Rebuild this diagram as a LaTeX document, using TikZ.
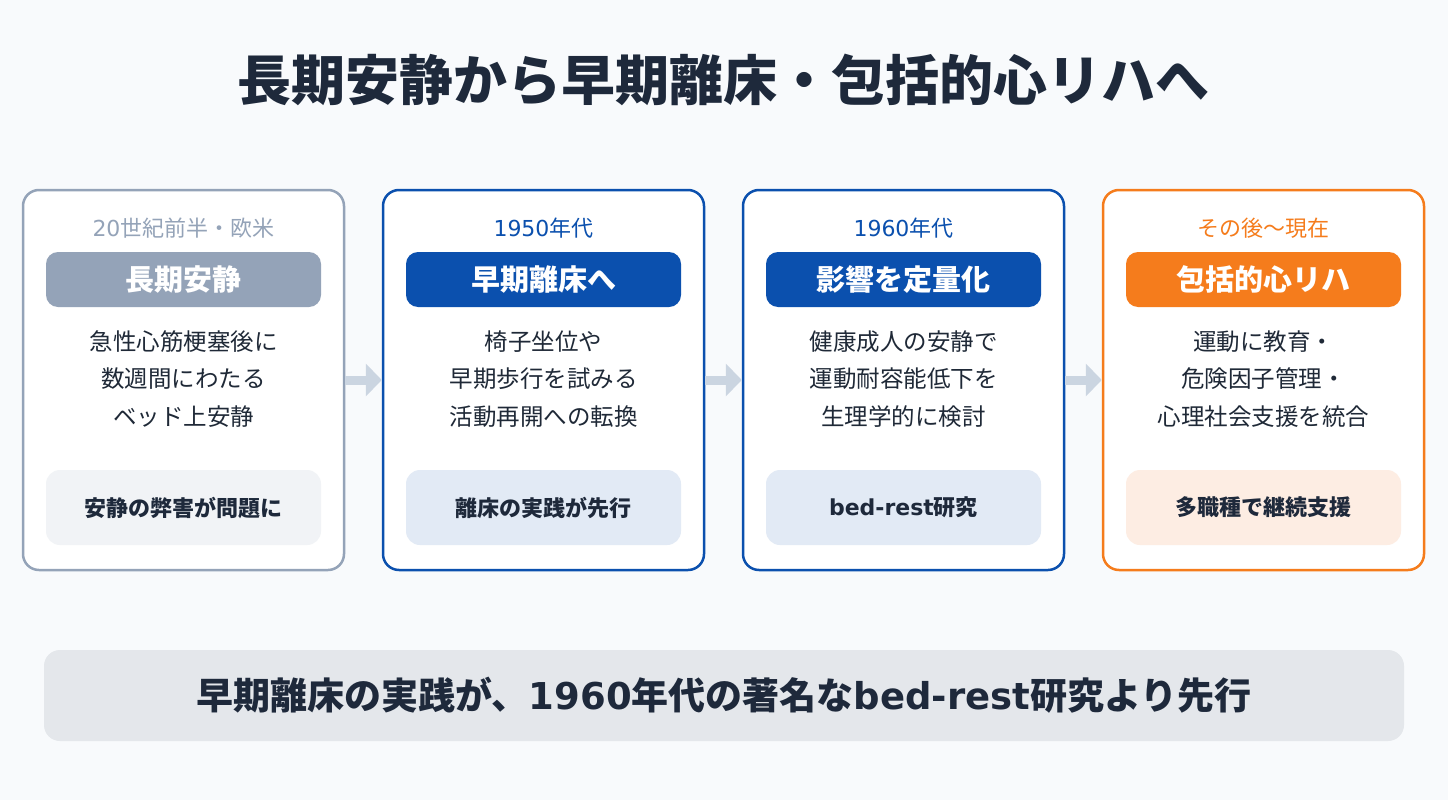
\documentclass[tikz,border=0pt]{standalone}
\usepackage{fontspec}
\setmainfont{Noto Sans CJK JP}[BoldFont={Noto Sans CJK JP Black}]
\newfontfamily\latfont{DejaVu Sans}
\newcommand{\lat}[1]{{\latfont #1}}
\usepackage{tikz}
\usetikzlibrary{arrows.meta}
\definecolor{bgcol}{HTML}{F8FAFC}
\definecolor{inkcol}{HTML}{1E293B}
\definecolor{bodycol}{HTML}{1F2937}
\definecolor{graycol}{HTML}{94A3B8}
\definecolor{graysub}{HTML}{F1F3F6}
\definecolor{bluecol}{HTML}{0B50AE}
\definecolor{bluesub}{HTML}{E2EAF5}
\definecolor{orangecol}{HTML}{F57C1C}
\definecolor{orangesub}{HTML}{FDEDE3}
\definecolor{arrowcol}{HTML}{CBD5E1}
\definecolor{bannercol}{HTML}{E4E7EB}

\begin{document}
\begin{tikzpicture}[x=1pt,y=-1pt,
	card/.style = {draw,line width=2.5pt,rounded corners=16pt,fill=white,minimum width=321pt,minimum height=380pt,inner sep=0pt},
	year/.style = {font=\fontsize{22}{26}\selectfont,inner sep=0pt},
	pill/.style = {rounded corners=12pt,minimum width=275pt,minimum height=55pt,inner sep=0pt,text=white,font=\fontsize{29}{34}\selectfont\bfseries},
	body/.style = {align=center,text=bodycol,inner sep=0pt,font=\fontsize{23.5}{37.5}\selectfont},
	sub/.style = {rounded corners=14pt,minimum width=275pt,minimum height=75pt,inner sep=0pt,text=inkcol,font=\fontsize{22}{26}\selectfont\bfseries},
	flow/.style = {draw=arrowcol,line width=9pt,-{Triangle[length=16pt,width=32pt]}}
	]
	\fill[bgcol] (0,0) rectangle (1448,800);
	\useasboundingbox (0,0) rectangle (1448,800);
	%TITLE
	\node[text=inkcol,font=\fontsize{54}{60}\selectfont\bfseries] (title) at (723,80) {長期安静から早期離床・包括的心リハへ};
	%CARD 1
	\node[card,draw=graycol] (card1) at (183.5,380) {};
	\node[year,text=graycol] (year1) at (183.5,228) {\lat{20}世紀前半・欧米};
	\node[pill,fill=graycol] (pill1) at (183.5,279.5) {長期安静};
	\node[body] (body1) at (183.5,379) {急性心筋梗塞後に\\数週間にわたる\\ベッド上安静};
	\node[sub,fill=graysub] (sub1) at (183.5,507.5) {安静の弊害が問題に};
	%CARD 2
	\node[card,draw=bluecol] (card2) at (543.5,380) {};
	\node[year,text=bluecol] (year2) at (543.5,228) {\lat{1950}年代};
	\node[pill,fill=bluecol] (pill2) at (543.5,279.5) {早期離床へ};
	\node[body] (body2) at (543.5,379) {椅子坐位や\\早期歩行を試みる\\活動再開への転換};
	\node[sub,fill=bluesub] (sub2) at (543.5,507.5) {離床の実践が先行};
	%CARD 3
	\node[card,draw=bluecol] (card3) at (903.5,380) {};
	\node[year,text=bluecol] (year3) at (903.5,228) {\lat{1960}年代};
	\node[pill,fill=bluecol] (pill3) at (903.5,279.5) {影響を定量化};
	\node[body] (body3) at (903.5,379) {健康成人の安静で\\運動耐容能低下を\\生理学的に検討};
	\node[sub,fill=bluesub] (sub3) at (903.5,507.5) {\lat{bed-rest}研究};
	%CARD 4
	\node[card,draw=orangecol] (card4) at (1263.5,380) {};
	\node[year,text=orangecol] (year4) at (1263.5,228) {その後〜現在};
	\node[pill,fill=orangecol] (pill4) at (1263.5,279.5) {包括的心リハ};
	\node[body] (body4) at (1263.5,379) {運動に教育・\\危険因子管理・\\心理社会支援を統合};
	\node[sub,fill=orangesub] (sub4) at (1263.5,507.5) {多職種で継続支援};
	%ARROWS
	\draw[flow] (card1) -- (card2);
	\draw[flow] (card2) -- (card3);
	\draw[flow] (card3) -- (card4);
	%BANNER
	\node[fill=bannercol,rounded corners=16pt,minimum width=1360pt,minimum height=91pt,inner sep=0pt,text=inkcol,font=\fontsize{37}{42}\selectfont\bfseries] (banner) at (724,695.5) {早期離床の実践が、\lat{1960}年代の著名な\lat{bed-rest}研究より先行};
\end{tikzpicture}
\end{document}
